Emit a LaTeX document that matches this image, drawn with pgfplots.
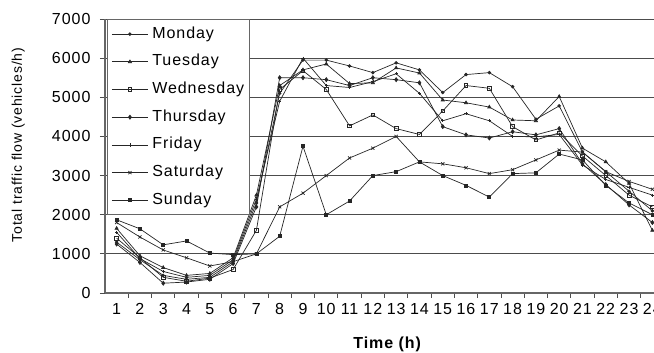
\documentclass[border=0pt]{standalone}
\usepackage{fontspec}
\setmainfont{Liberation Sans}[LetterSpace=6]
\usepackage{pgfplots}
\usepackage{pgfplotstable}
\pgfplotsset{compat=1.18}

\pgfplotstableread{
h  Mon  Tue  Wed  Thu  Fri  Sat  Sun
1  1300 1650 1400 1250 1550 1800 1870
2  850  950  900  780  880  1430 1640
3  450  650  400  250  550  1100 1230
4  350  450  300  280  400  900  1330
5  400  500  380  350  450  690  1020
6  800  900  600  750  850  800  980
7  2300 2500 1600 2200 2400 1000 1000
8  5100 5300 5200 5500 4900 2200 1450
9  5950 5700 5680 5500 6000 2550 3750
10 5950 5850 5200 5450 5300 3000 2000
11 5800 5350 4270 5300 5250 3450 2350
12 5630 5370 4550 5500 5400 3700 3000
13 5880 5750 4200 5450 5600 4000 3100
14 5700 5620 4050 5370 5100 3350 3350
15 5120 4930 4650 4250 4400 3300 3000
16 5580 4860 5300 4040 4580 3200 2750
17 5630 4750 5230 3960 4400 3050 2450
18 5270 4420 4250 4120 4000 3150 3050
19 4440 4400 3910 4040 3990 3400 3070
20 4780 5020 4090 4200 4050 3650 3550
21 3600 3700 3500 3300 3270 3600 3400
22 3100 3350 3000 2770 2900 3100 2750
23 2600 2800 2500 2250 2700 2850 2300
24 2100 1600 2200 1800 2500 2650 2000
}\traffic

\begin{document}
\begin{tikzpicture}
\begin{axis}[
  scale only axis, width=549pt, height=274pt,
  at={(0,0)}, anchor=south west,
  xmin=0.5, xmax=24.07, ymin=0, ymax=7000,
  axis x line*=bottom, axis y line*=left,
  axis line style={black!60, line width=1.2pt},
  xtick={1.5,2.5,...,23.5}, xticklabels={},
  extra x ticks={1,...,24},
  extra x tick style={major tick length=0pt, xticklabel style={yshift=-7pt}},
  ytick={0,1000,...,7000},
  major tick length=5pt,
  tick align=outside,
  tick style={black!70, line width=0.9pt},
  yticklabel style={xshift=-6pt},
  ymajorgrids, major grid style={black!70, line width=1pt},
  tick label style={font=\fontsize{16}{18}\selectfont},
  /pgf/number format/assume math mode=true,
  /pgf/number format/1000 sep={},
  ylabel={Total traffic flow (vehicles/h)},
  ylabel style={at={(axis description cs:-0.158,0.54)}, anchor=center, font=\fontsize{14}{16}\selectfont},
  xlabel={Time (h)},
  xlabel style={at={(axis description cs:0.514,-0.186)}, anchor=center, font=\bfseries\fontsize{16}{18}\selectfont},
  legend cell align=left,
  legend image code/.code={\draw[mark repeat=2,mark phase=2,#1] plot coordinates {(0pt,0pt) (18pt,0pt) (36pt,0pt)};},
  legend style={at={(axis description cs:0.0036,1)}, anchor=north west,
    draw=black!60, line width=1.2pt, fill=white,
    font=\fontsize{16}{18}\selectfont,
    inner xsep=4pt, inner ysep=6pt, row sep=10.7pt,
    nodes={inner sep=1pt, text height=11.5pt, text depth=3.5pt},
    /tikz/every odd column/.append style={column sep=3pt}},
]
\addplot[black!85, line width=0.7pt, mark=*, mark size=1.4pt] table[x=h, y=Mon] {\traffic}; \addlegendentry{Monday}
\addplot[black!85, line width=0.7pt, mark=triangle*, mark size=1.8pt] table[x=h, y=Tue] {\traffic}; \addlegendentry{Tuesday}
\addplot[black!85, line width=0.7pt, mark=square, mark size=1.8pt, mark options={fill=white}] table[x=h, y=Wed] {\traffic}; \addlegendentry{Wednesday}
\addplot[black!85, line width=0.7pt, mark=diamond*, mark size=2pt] table[x=h, y=Thu] {\traffic}; \addlegendentry{Thursday}
\addplot[black!85, line width=0.7pt, mark=+, mark size=1.6pt] table[x=h, y=Fri] {\traffic}; \addlegendentry{Friday}
\addplot[black!85, line width=0.7pt, mark=x, mark size=2.2pt] table[x=h, y=Sat] {\traffic}; \addlegendentry{Saturday}
\addplot[black!85, line width=0.7pt, mark=square*, mark size=1.5pt] table[x=h, y=Sun] {\traffic}; \addlegendentry{Sunday}
\end{axis}
\pgfresetboundingbox
\path[use as bounding box] (-105pt,-60pt) rectangle (549pt,293pt);
\end{tikzpicture}
\end{document}
